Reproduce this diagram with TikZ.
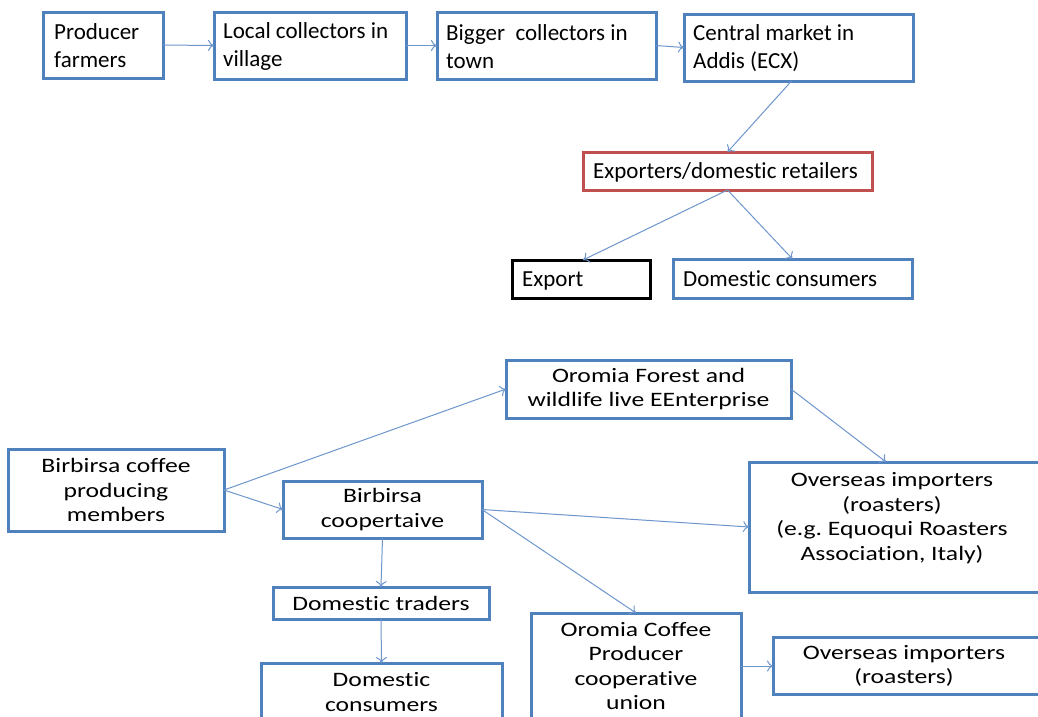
\documentclass[tikz,border=0pt]{standalone}
\usepackage{fontspec}
\setmainfont{Carlito}[Ligatures=NoCommon]
\newfontfamily\wfont{Carlito}[FakeStretch=1.25,Ligatures=NoCommon]
\usetikzlibrary{arrows.meta}
\definecolor{boxblue}{RGB}{79,129,189}
\definecolor{linkblue}{RGB}{110,150,205}
\definecolor{boxred}{RGB}{192,80,77}
\tikzset{
  box/.style={draw=boxblue, line width=3pt, fill=white, inner sep=0pt, outer sep=0pt},
  toptext/.style={anchor=west, align=left, font=\fontsize{23}{28}\selectfont, inner sep=0pt},
  oneline/.style={toptext, text height=15pt, text depth=0pt},
  bottext/.style={align=center, font=\wfont\fontsize{20.5}{24.5}\selectfont, inner sep=0pt},
  link/.style={draw=linkblue, line width=1pt, -{To[length=6pt,width=11pt]}},
}
\frenchspacing
\begin{document}
\begin{tikzpicture}[x=1pt,y=-1pt]
\useasboundingbox (0,0) rectangle (1038,716);
\clip (0,0) rectangle (1038,716);
\fill[white] (0,0) rectangle (1038,716);
% top chain
\node[box, minimum width=120, minimum height=66] (pf) at (103,45) {};
\node[toptext] (pft) at ([xshift=11pt,yshift=-1pt]pf.west) {Producer\\farmers};
\node[box, minimum width=192, minimum height=67] (lc) at (310,45.5) {};
\node[toptext] (lct) at ([xshift=9pt,yshift=-1pt]lc.west) {Local collectors in\\village};
\node[box, minimum width=219, minimum height=67] (bc) at (546.5,45.5) {};
\node[toptext] (bct) at ([xshift=9pt,yshift=-1pt]bc.west) {Bigger\ \ collectors in\\town};
\node[box, minimum width=229, minimum height=67] (cm) at (798.5,47.5) {};
\node[toptext] (cmt) at ([xshift=9pt,yshift=-1pt]cm.west) {Central market in\\Addis (ECX)};
\node[box, draw=boxred, minimum width=289, minimum height=38] (ex) at (727.5,171) {};
\node[oneline] (ext) at ([xshift=10pt]ex.west) {Exporters/domestic retailers};
\node[box, draw=black, minimum width=138, minimum height=38] (exp) at (581,279) {};
\node[oneline] (expt) at ([xshift=10pt]exp.west) {Export};
\node[box, minimum width=239, minimum height=39] (dc) at (792.5,278.5) {};
\node[oneline] (dct) at ([xshift=10pt]dc.west) {Domestic consumers};
\draw[link] (pf.east) -- (lc.west);
\draw[link] (lc.east) -- (bc.west);
\draw[link] (bc.east) -- (cm.west);
\draw[link] ([xshift=-7pt]cm.south) -- (ex.north);
\draw[link] (ex.south) -- ([xshift=2pt]exp.north);
\draw[link] (ex.south) -- (dc.north);
% bottom network
\node[box, minimum width=216, minimum height=82] (bm) at (116,490) {};
\node[bottext] (bmt) at (116,490) {Birbirsa coffee\\producing\\members};
\node[box, minimum width=199, minimum height=57] (bco) at (382.5,509.5) {};
\node[bottext] (bcot) at (382.5,509.5) {Birbirsa\\coopertaive};
\node[box, minimum width=216, minimum height=32] (dt) at (381,603) {};
\node[bottext] (dtt) at (381,603) {Domestic traders};
\node[box, minimum width=241, minimum height=62] (dco) at (381.5,694) {};
\node[bottext] (dcot) at (381.5,692) {Domestic\\consumers};
\node[box, minimum width=285, minimum height=58] (of) at (648.5,389) {};
\node[bottext] (oft) at (648.5,389) {Oromia Forest and\\wildlife live EEnterprise};
\node[box, minimum width=300, minimum height=130] (oi) at (899,527) {};
\node[bottext] (oit) at (892,518) {Overseas importers\\(roasters)\\(e.g. Equoqui Roasters\\Association, Italy)};
\node[box, minimum width=210, minimum height=127] (ocu) at (636,676.5) {};
\node[bottext] (ocut) at (636,666) {Oromia Coffee\\Producer\\cooperative\\union};
\node[box, minimum width=276, minimum height=57] (oi2) at (911,666) {};
\node[bottext] (oi2t) at (904,666) {Overseas importers\\(roasters)};
\draw[link] (bm.east) -- (of.west);
\draw[link] (bm.east) -- (bco.west);
\draw[link] (bco.east) -- (oi.west);
\draw[link] (bco.east) -- (ocu.north);
\draw[link] (of.east) -- ([xshift=-13pt]oi.north);
\draw[link] (bco.south) -- (dt.north);
\draw[link] (dt.south) -- (dco.north);
\draw[link] (ocu.east |- oi2.west) -- (oi2.west);
\end{tikzpicture}
\end{document}
